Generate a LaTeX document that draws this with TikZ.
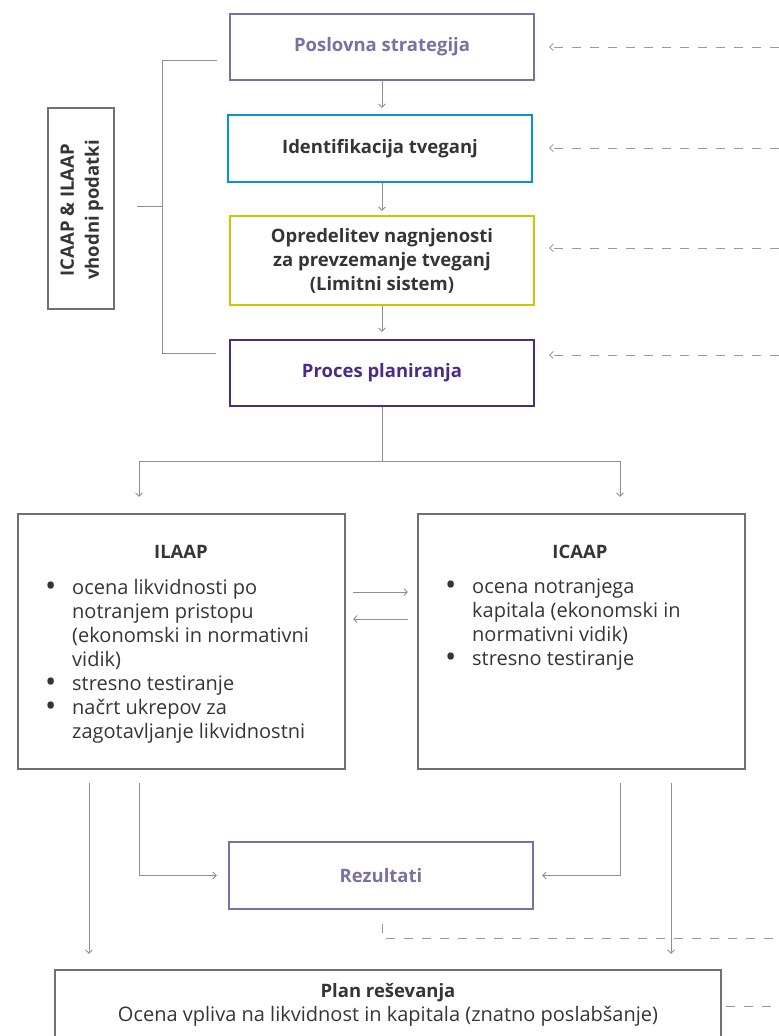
\documentclass[tikz,border=0pt]{standalone}
\usepackage{fontspec}
\setmainfont{Open Sans}
\usetikzlibrary{arrows.meta,calc}
\definecolor{violetA}{HTML}{7A70A2}
\definecolor{blueB}{HTML}{0A93CF}
\definecolor{yellowC}{HTML}{C9C800}
\definecolor{purpleD}{HTML}{4B2B86}
\definecolor{txt}{HTML}{353535}
\definecolor{boxgray}{HTML}{707070}
\definecolor{connc}{HTML}{8E8E8E}
\definecolor{dashc}{HTML}{9A9A9A}
\newcommand{\bitem}{\makebox[27pt][l]{\smash{\raisebox{-1.8pt}{\scalebox{1.5}{\textbullet}}}}}
\newcommand{\bcont}{\hspace*{27pt}}
\begin{document}
\begin{tikzpicture}[x=1pt,y=-1pt,
  box/.style={draw, line width=2.3pt, minimum width=304pt, minimum height=66pt, inner sep=0pt,
    font=\bfseries\fontsize{18.5}{24}\selectfont, text=txt, align=center},
  graybox/.style={draw=boxgray, line width=2.3pt, inner sep=0pt},
  plain/.style={inner sep=0pt, text=txt, font=\fontsize{20}{24}\selectfont},
  titlef/.style={inner sep=0pt, text=txt, font=\bfseries\fontsize{18.5}{24}\selectfont},
  conn/.style={draw=connc, line width=0.8pt},
  arr/.style={conn, -{Straight Barb[length=3.5pt,width=7pt]}},
  dasharr/.style={draw=dashc, line width=0.9pt, dash pattern=on 9pt off 9pt, -{Straight Barb[length=3.5pt,width=7pt]}},
  dashln/.style={draw=dashc, line width=0.9pt, dash pattern=on 9pt off 9pt}
]
\useasboundingbox (0,0) rectangle (779,1036);
\clip (0,0) rectangle (779,1036);

% top column of boxes
\node[box, draw=violetA, text=violetA] (pos) at (382,47) {Poslovna strategija};
\node[box, draw=blueB, minimum height=67pt] (ident) at (380,148.5) {Identifikacija tveganj};
\node[box, draw=yellowC, minimum height=89pt] (opr) at (382,260.5) {Opredelitev nagnjenosti\\za prevzemanje tveganj\\(Limitni sistem)};
\node[box, draw=purpleD, text=purpleD] (proc) at (382,373) {Proces planiranja};

% input label box
\node[graybox, minimum width=66pt, minimum height=201pt] (inbox) at (81,208.5) {};
\node[titlef, font=\bfseries\fontsize{18.5}{25}\selectfont, rotate=90, align=center] (inlabel) at (82,210) {ICAAP \& ILAAP\\vhodni podatki};

% bracket
\coordinate (brT) at (217,60);
\coordinate (brB) at (216,353);
\coordinate (brM) at (162,206);
\coordinate (brS) at (137,206);
\draw[conn] (brT) -- (162,60) -- (162,353) -- (brB);
\draw[conn] (brS) -- (brM);

% arrows in column
\draw[arr, shorten >=6pt] (pos.south) -- (pos.south |- ident.north);
\draw[arr, shorten >=4pt] (ident.south -| opr.north) -- (opr.north);
\draw[arr, shorten >=7pt] (opr.south) -- (proc.north);

% right dashed inputs
\coordinate (r1) at (779,47);
\coordinate (r2) at (779,148);
\coordinate (r3) at (779,248);
\coordinate (r4) at (779,355);
\draw[dasharr, shorten >=14pt] (r1) -- (r1 -| pos.east);
\draw[dasharr, shorten >=16pt] (r2) -- (r2 -| ident.east);
\draw[dasharr, shorten >=14pt] (r3) -- (r3 -| opr.east);
\draw[dasharr, shorten >=14pt] (r4) -- (r4 -| proc.east);

% ILAAP / ICAAP boxes
\node[graybox, minimum width=327pt, minimum height=255pt] (ilaap) at (181.5,641.5) {};
\node[graybox, minimum width=327pt, minimum height=255pt] (icaap) at (581.5,641.5) {};
\node[titlef] (ilaapT) at (181,552) {ILAAP};
\node[titlef] (icaapT) at (580,552) {ICAAP};
\node[plain, anchor=north west, align=left] (ilaapL) at (45,579) {%
\bitem ocena likvidnosti po\\
\bcont notranjem pristopu\\
\bcont (ekonomski in normativni\\
\bcont vidik)\\
\bitem stresno testiranje\\
\bitem načrt ukrepov za\\
\bcont zagotavljanje likvidnostni};
\node[plain, anchor=north west, align=left] (icaapL) at (445,579) {%
\bitem ocena notranjega\\
\bcont kapitala (ekonomski in\\
\bcont normativni vidik)\\
\bitem stresno testiranje};

% split from Proces planiranja
\coordinate (split) at (382,461);
\coordinate (sL) at (139,461);
\coordinate (sR) at (620,461);
\draw[conn] (proc.south) -- (split);
\draw[conn] (sL) -- (sR);
\draw[arr, shorten >=16pt] (sL) -- (sL |- ilaap.north);
\draw[arr, shorten >=16pt] (sR) -- (sR |- icaap.north);

% between ILAAP and ICAAP
\coordinate (m1) at (0,592);
\coordinate (m2) at (0,619);
\draw[arr, shorten <=7pt, shorten >=9pt] (m1 -| ilaap.east) -- (m1 -| icaap.west);
\draw[arr, shorten <=9pt, shorten >=7pt] (m2 -| icaap.west) -- (m2 -| ilaap.east);

% Rezultati
\node[box, draw=violetA, text=violetA, minimum height=67pt] (rez) at (381,875.5) {Rezultati};

% Plan reševanja
\node[graybox, minimum width=666pt, minimum height=100pt] (plan) at (388,1020) {};
\node[plain, align=center] (planT) at (388,1005) {\textbf{\fontsize{18.5}{24}\selectfont Plan reševanja}\\Ocena vpliva na likvidnost in kapitala (znatno poslabšanje)};

% lines below ILAAP / ICAAP
\coordinate (d1) at (89,783);
\coordinate (d2) at (139,783);
\coordinate (d3) at (620,783);
\coordinate (d4) at (671,783);
\draw[arr, shorten >=15pt] (d1) -- (d1 |- plan.north);
\draw[arr, shorten >=11pt] (d2) |- (rez.west);
\draw[arr, shorten >=8pt] (d3) |- (rez.east);
\draw[arr, shorten >=15pt] (d4) -- (d4 |- plan.north);

% dashed outputs
\coordinate (o1) at (779,938);
\draw[dashln] ($(rez.south)+(1,14)$) |- (o1);
\coordinate (o2) at (779,1006);
\draw[dashln, shorten <=4pt] (o2 -| plan.east) -- (o2);
\end{tikzpicture}
\end{document}
